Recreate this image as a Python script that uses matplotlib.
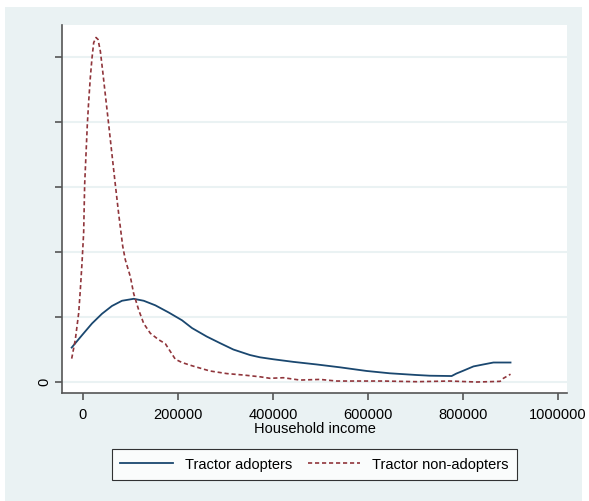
import matplotlib
matplotlib.use("Agg")
import matplotlib.pyplot as plt
from matplotlib.patches import Rectangle

plt.rcParams['font.family'] = ['Liberation Sans', 'DejaVu Sans']

# kernel density of household income, density scaled by 1e6
adopt_x = [-23800, -2100, 18900, 40000, 61000, 82100, 106700, 127800, 152200,
           180300, 208400, 229500, 260400, 288000, 316500, 351600, 372600,
           400600, 442700, 492000, 541000, 597000, 646000, 702000, 730000,
           776000, 786000, 800600, 822000, 842700, 864000, 884900, 900000]
adopt_y = [0.53, 0.72, 0.90, 1.05, 1.17, 1.25, 1.28, 1.25, 1.18,
           1.07, 0.95, 0.83, 0.70, 0.60, 0.50, 0.415, 0.38,
           0.35, 0.31, 0.27, 0.226, 0.17, 0.134, 0.108, 0.097,
           0.092, 0.13, 0.174, 0.24, 0.27, 0.30, 0.30, 0.30]

nonadopt_x = [-23800, -16200, -9100, -5600, -2100, 1400, 3500, 6300, 9100,
              12000, 15400, 18900, 22500, 27400, 31600, 36500, 41500, 47000,
              54100, 61000, 68000, 75200, 83600, 89100, 99700, 106700, 117200,
              127800, 141700, 159400, 173300, 183800, 194400, 208400, 229500,
              267000, 302500, 337000, 373000, 393700, 421700, 456800, 498900,
              534000, 632000, 702000, 772000, 829000, 878000, 885000, 900000]
nonadopt_y = [0.36, 0.65, 1.06, 1.42, 1.83, 2.30, 3.04, 3.50, 3.96,
              4.32, 4.68, 4.98, 5.22, 5.30, 5.27, 5.09, 4.78, 4.42,
              3.96, 3.50, 3.04, 2.58, 2.09, 1.88, 1.62, 1.36, 1.11,
              0.90, 0.75, 0.65, 0.59, 0.47, 0.35, 0.30, 0.25,
              0.17, 0.13, 0.108, 0.08, 0.057, 0.066, 0.03, 0.04,
              0.015, 0.015, 0.005, 0.015, 0.0, 0.01, 0.057, 0.12]

x_ticks = [0, 200000, 400000, 600000, 800000, 1000000]
y_ticks = [0, 1, 2, 3, 4, 5]
y_tick_labels = ['0', '', '', '', '', '']

navy = '#1a476f'
maroon = '#90353b'
bg = '#eaf2f3'

fig = plt.figure(figsize=(5.89, 5.01), dpi=100, facecolor='white')
W, H = 589, 501
fig.patches.append(Rectangle((5 / W, 0), 577 / W, 494 / H, transform=fig.transFigure,
                             facecolor=bg, edgecolor='none', zorder=-10))

ax = fig.add_axes([62 / W, 1 - 393 / H, 505 / W, 368 / H])
ax.set_facecolor('white')

ax.plot(adopt_x, adopt_y, color=navy, lw=1.3, label='Tractor adopters')
ax.plot(nonadopt_x, nonadopt_y, color=maroon, lw=1.2, linestyle=(0, (2.5, 1.7)),
        label='Tractor non-adopters')

ax.set_xlim(-44200, 1018900)
ax.set_ylim(-0.169, 5.492)
ax.set_xticks(x_ticks)
ax.set_xticklabels([str(v) for v in x_ticks])
ax.set_yticks(y_ticks)
ax.set_yticklabels(y_tick_labels, rotation=90, va='center')
ax.grid(axis='y', color=bg, lw=1.5)
ax.set_axisbelow(True)

for side in ('top', 'right'):
    ax.spines[side].set_visible(False)
for side in ('left', 'bottom'):
    ax.spines[side].set_color('#555555')
    ax.spines[side].set_linewidth(1.2)
ax.tick_params(axis='both', direction='out', length=5, width=1.2, color='#555555',
               labelsize=10.5, labelcolor='black')
ax.tick_params(axis='x', pad=6)
ax.tick_params(axis='y', pad=3)

ax.set_xlabel('Household income', fontsize=10.5, labelpad=0)

leg = fig.legend(loc='center', bbox_to_anchor=(314.5 / W, 1 - 464.5 / H), ncol=2,
                 fontsize=10.5, frameon=True, fancybox=False, handlelength=3.6,
                 columnspacing=1.1, handletextpad=0.8, borderpad=0.55)
leg.get_frame().set_edgecolor('black')
leg.get_frame().set_linewidth(0.8)

fig.savefig('out.png', dpi=100, facecolor=fig.get_facecolor())
